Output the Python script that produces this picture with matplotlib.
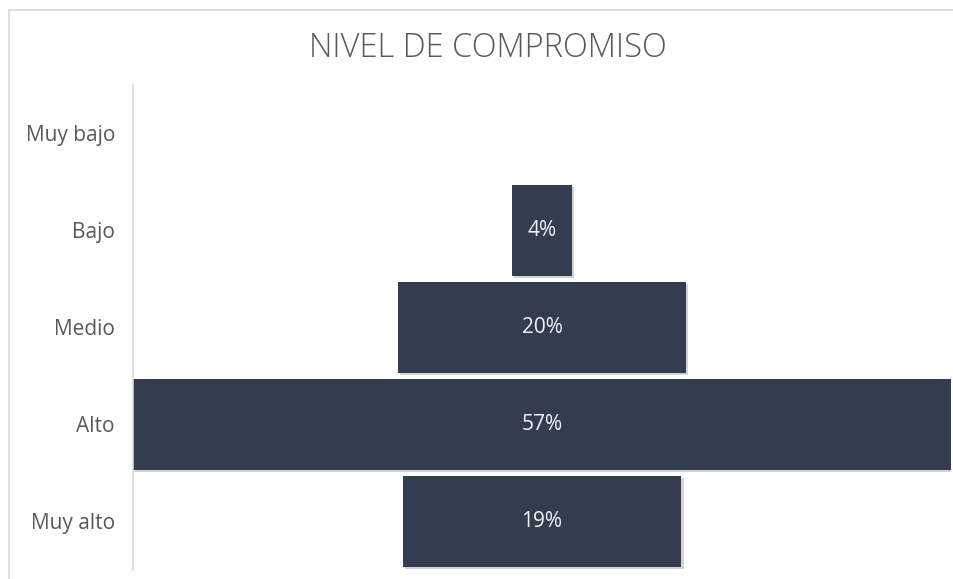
import matplotlib
matplotlib.use("Agg")
import matplotlib.pyplot as plt
import matplotlib.patheffects as pe
from matplotlib.lines import Line2D

categories = ["Muy bajo", "Bajo", "Medio", "Alto", "Muy alto"]
values = [0.0, 4.2, 19.9, 56.6, 19.3]
title = "NIVEL DE COMPROMISO"

bar_color = "#333D4F"
text_grey = "#595959"

plt.rcParams['font.family'] = ['Open Sans', 'DejaVu Sans']

fig = plt.figure(figsize=(9.54, 5.79), dpi=100)
fig.patch.set_facecolor("white")

# outer chart border (top and left visible)
fig.add_artist(Line2D([9/954, 1.0], [1 - 10/579, 1 - 10/579], transform=fig.transFigure,
                      color="#D9D9D9", lw=1.2))
fig.add_artist(Line2D([9/954, 9/954], [0.0, 1 - 10/579], transform=fig.transFigure,
                      color="#D9D9D9", lw=1.2))

ax = fig.add_axes([133/954, 1 - 570/579, (951 - 133)/954, (570 - 85)/579])
ypos = list(range(len(categories)))
lefts = [-v / 2 for v in values]
bars = ax.barh(ypos, values, left=lefts, height=0.93, color=bar_color)
for b in bars:
    b.set_path_effects([pe.SimplePatchShadow(offset=(1.5, -1.5), shadow_rgbFace="#7f7f7f", alpha=0.35),
                        pe.Normal()])

for y, v in zip(ypos, values):
    if v > 0:
        ax.text(0, y, f"{v:.0f}%", ha="center", va="center", color="#F2F2F2", fontsize=15)

mx = max(values) / 2
ax.set_xlim(-mx, mx)
ax.set_ylim(len(categories) - 0.5, -0.5)
ax.set_yticks(ypos)
ax.set_yticklabels(categories, fontsize=15, color=text_grey)
ax.tick_params(axis="y", length=0, pad=13)
ax.set_xticks([])
for s in ["top", "right", "bottom"]:
    ax.spines[s].set_visible(False)
ax.spines["left"].set_color("#D9D9D9")
ax.spines["left"].set_linewidth(1.2)

fig.text(488/954, 1 - 48.5/579, title, ha="center", va="center", fontsize=23.5,
         color=text_grey, fontweight="light")

fig.savefig("out.png", dpi=100)
